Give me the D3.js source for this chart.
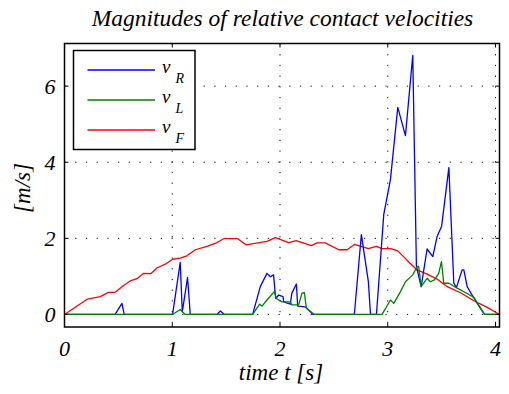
<!DOCTYPE html>
<html>
<head>
<meta charset="utf-8">
<script src="https://cdn.jsdelivr.net/npm/d3@7"></script>
<style>
  html, body { margin: 0; padding: 0; background: #fff; }
</style>
</head>
<body>
<div id="chart"></div>
<script>
// 数据 - 从图中读取
const xTicks = [0, 1, 2, 3, 4];
const yTicks = [0, 2, 4, 6];

// v_F (red)
const tF = [0, 0.214, 0.331, 0.409, 0.47, 0.548, 0.61, 0.672, 0.734, 0.80, 0.858, 0.935, 1.003, 1.074, 1.136, 1.214, 1.322, 1.415, 1.477, 1.607, 1.684, 1.879, 1.957, 2.08, 2.15, 2.29, 2.344, 2.42, 2.545, 2.622, 2.69, 2.82, 2.895, 2.947, 3.025, 3.093, 3.18, 3.272, 3.365, 3.458, 3.551, 3.675, 3.799, 3.923, 4.037];
const vF = [0, 0.405, 0.467, 0.58, 0.58, 0.76, 0.88, 0.94, 1.08, 1.07, 1.22, 1.32, 1.45, 1.48, 1.54, 1.70, 1.79, 1.89, 1.99, 1.99, 1.83, 1.92, 2.02, 1.89, 1.94, 1.81, 1.88, 1.88, 1.70, 1.70, 1.84, 1.73, 1.79, 1.73, 1.73, 1.67, 1.42, 1.17, 1.06, 0.93, 0.73, 0.57, 0.36, 0.185, 0];

// v_R (blue)
const tR = [0, 0.47, 0.533, 0.554, 1.003, 1.074, 1.093, 1.142, 1.167, 1.415, 1.446, 1.483, 1.746, 1.817, 1.879, 1.91, 1.94, 1.96, 1.988, 2.028, 2.034, 2.096, 2.11, 2.152, 2.164, 2.235, 2.307, 2.69, 2.755, 2.82, 2.84, 2.895, 2.963, 3.025, 3.093, 3.164, 3.232, 3.266, 3.31, 3.365, 3.418, 3.458, 3.50, 3.567, 3.613, 3.638, 3.69, 3.706, 3.737, 3.774, 3.83, 3.898, 4.037];
const vR = [0, 0, 0.29, 0, 0, 1.37, 0.07, 0.97, 0, 0, 0.09, 0, 0, 0.73, 1.08, 0.99, 1.04, 0.42, 0.51, 0.47, 0.33, 0.27, 0.56, 0.80, 0.22, 0.20, 0, 0, 2.10, 0.86, 0, 0, 2.63, 3.55, 5.44, 4.70, 6.81, 1.26, 0.73, 1.72, 1.52, 2.05, 2.32, 3.86, 0.82, 0.71, 1.17, 1.17, 0.73, 0.55, 0.29, 0, 0];

// v_L (green)
const tL = [0, 1.003, 1.074, 1.12, 1.746, 1.811, 1.833, 1.879, 1.947, 1.966, 2.018, 2.096, 2.11, 2.173, 2.204, 2.226, 2.245, 2.319, 2.947, 3.025, 3.056, 3.118, 3.164, 3.232, 3.272, 3.287, 3.31, 3.365, 3.395, 3.433, 3.473, 3.498, 3.52, 3.567, 3.644, 3.737, 3.799, 3.898, 4.037];
const vL = [0, 0, 0.13, 0, 0, 0.27, 0.22, 0.38, 0.60, 0.42, 0.33, 0.33, 0.25, 0.25, 0.56, 0.57, 0.16, 0, 0, 0.38, 0.29, 0.60, 0.86, 1.04, 1.26, 1.26, 0.73, 0.95, 0.86, 0.91, 1.08, 1.39, 0.82, 0.82, 0.69, 0.55, 0.45, 0, 0];

const seriesNames = ["R", "L", "F"];
const seriesColors = ["#0000ff", "#008000", "#ff0000"];

const FONT = "'Liberation Serif', 'Times New Roman', 'DejaVu Serif', serif";
const W = 509, H = 394;
const plot = { left: 64.5, right: 499.5, top: 43.5, bottom: 327 };

const svg = d3.select("#chart").append("svg")
    .attr("width", W).attr("height", H);

const x = d3.scaleLinear().domain([0, 4.037]).range([plot.left, plot.right]);
const y = d3.scaleLinear().domain([-0.33, 7.12]).range([plot.bottom, plot.top]);

const addText = (sel, size) => sel.append("text")
    .attr("font-family", FONT)
    .attr("font-style", "italic")
    .attr("font-size", size)
    .attr("fill", "#000");

// 网格
const grid = svg.append("g");
grid.selectAll(".gx").data(xTicks.slice(1)).enter().append("line")
    .attr("x1", d => x(d)).attr("x2", d => x(d))
    .attr("y1", plot.top).attr("y2", plot.bottom)
    .attr("stroke", "#000").attr("stroke-width", 1)
    .attr("stroke-dasharray", "1.2,9.5");
grid.selectAll(".gy").data(yTicks).enter().append("line")
    .attr("x1", plot.left).attr("x2", plot.right)
    .attr("y1", d => y(d)).attr("y2", d => y(d))
    .attr("stroke", "#000").attr("stroke-width", 1)
    .attr("stroke-dasharray", "1.2,9.5");

// 曲线
svg.append("clipPath").attr("id", "clip")
    .append("rect").attr("x", plot.left).attr("y", plot.top)
    .attr("width", plot.right - plot.left).attr("height", plot.bottom - plot.top);

const line = d3.line().x(d => x(d[0])).y(d => y(d[1]));
const drawSeries = (t, v, color) => {
    svg.append("path")
        .datum(t.map((d, i) => [d, v[i]]))
        .attr("clip-path", "url(#clip)")
        .attr("fill", "none")
        .attr("stroke", color)
        .attr("stroke-width", 1.3)
        .attr("stroke-linejoin", "round")
        .attr("d", line);
};
drawSeries(tF, vF, seriesColors[2]);
drawSeries(tR, vR, seriesColors[0]);
drawSeries(tL, vL, seriesColors[1]);

// 坐标轴 (内向刻度, 四边)
const tickLen = 4;
const axisG = svg.append("g").attr("stroke", "#000").attr("stroke-width", 1);
xTicks.forEach(d => {
    axisG.append("line").attr("x1", x(d)).attr("x2", x(d)).attr("y1", plot.bottom).attr("y2", plot.bottom - tickLen);
    axisG.append("line").attr("x1", x(d)).attr("x2", x(d)).attr("y1", plot.top).attr("y2", plot.top + tickLen);
});
yTicks.forEach(d => {
    axisG.append("line").attr("x1", plot.left).attr("x2", plot.left + tickLen).attr("y1", y(d)).attr("y2", y(d));
    axisG.append("line").attr("x1", plot.right).attr("x2", plot.right - tickLen).attr("y1", y(d)).attr("y2", y(d));
});
svg.append("rect")
    .attr("x", plot.left).attr("y", plot.top)
    .attr("width", plot.right - plot.left).attr("height", plot.bottom - plot.top)
    .attr("fill", "none").attr("stroke", "#000").attr("stroke-width", 1.5);

// 刻度标签
xTicks.forEach(d => {
    addText(svg, 22).attr("x", x(d)).attr("y", plot.bottom + 29)
        .attr("text-anchor", "middle").text(d);
});
yTicks.forEach(d => {
    addText(svg, 22).attr("x", plot.left - 9).attr("y", y(d) + 7.5)
        .attr("text-anchor", "end").text(d);
});

// 标题与轴标签
addText(svg, 23.5).attr("x", 282.5).attr("y", 26)
    .attr("text-anchor", "middle")
    .text("Magnitudes of relative contact velocities");
addText(svg, 23).attr("x", 281).attr("y", 380)
    .attr("text-anchor", "middle")
    .text("time t [s]");
addText(svg, 23)
    .attr("transform", `translate(30, 188) rotate(-90)`)
    .attr("text-anchor", "middle")
    .text("[m/s]");

// 图例
const legend = svg.append("g");
legend.append("rect")
    .attr("x", 73.5).attr("y", 50.5).attr("width", 121.5).attr("height", 99)
    .attr("fill", "#fff").attr("stroke", "#000").attr("stroke-width", 1.5);
seriesNames.forEach((name, i) => {
    const ly = 70 + i * 30;
    legend.append("line")
        .attr("x1", 87.5).attr("x2", 155).attr("y1", ly).attr("y2", ly)
        .attr("stroke", seriesColors[i]).attr("stroke-width", 1.3);
    const tx = addText(legend, 19).attr("x", 162).attr("y", ly + 3);
    tx.append("tspan").text("v");
    tx.append("tspan").attr("dx", 5).attr("dy", 10).attr("font-size", 14).text(name);
});
</script>
</body>
</html>
